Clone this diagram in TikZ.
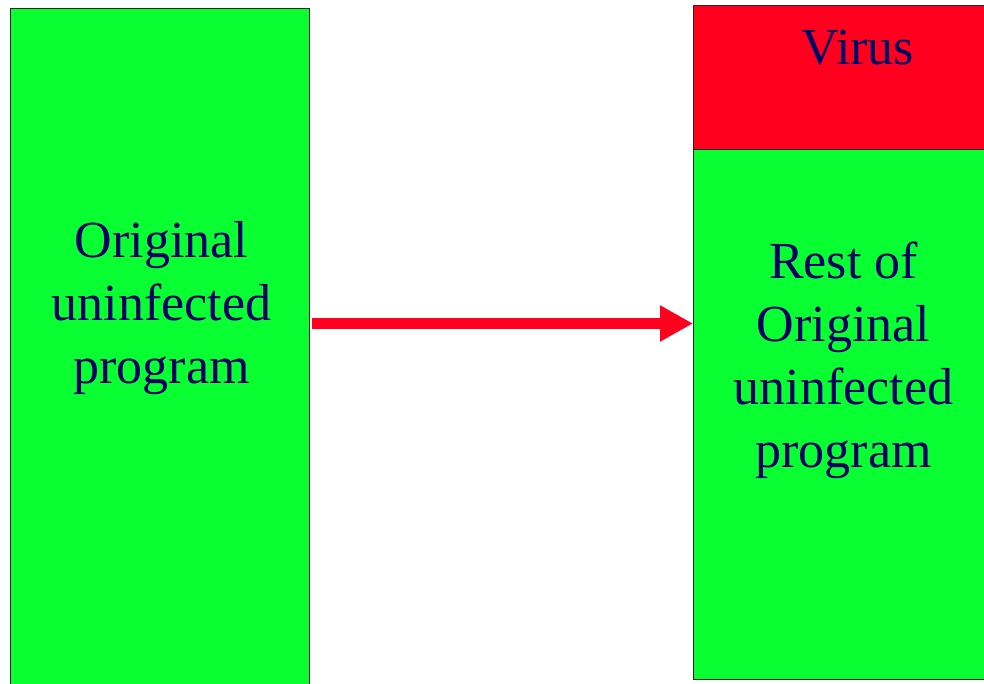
\documentclass[tikz,border=0pt]{standalone}
\usepackage{fontspec}
\setmainfont{Liberation Serif}
\usetikzlibrary{arrows.meta}
\definecolor{boxgreen}{RGB}{10,255,50}
\definecolor{boxred}{RGB}{255,0,30}
\definecolor{textnavy}{RGB}{0,0,102}
\begin{document}
\begin{tikzpicture}[x=1pt,y=-1pt,
  boxstyle/.style={draw=black!85,line width=1pt},
  bigtext/.style={text=textnavy,align=center,inner sep=0pt,font=\fontsize{52}{63}\selectfont},
  flowarrow/.style={draw=boxred,line width=11pt,-{Triangle[length=33pt,width=34pt]}}]
\useasboundingbox (0,0) rectangle (984,684);
\path[boxstyle,fill=boxgreen] (10,9) rectangle (309,700);
\coordinate (leftbox) at (309,323.5);
\path[boxstyle,fill=boxred] (693,6) rectangle (1000,150);
\path[boxstyle,fill=boxgreen] (693,150) rectangle (1000,679);
\coordinate (rightbox) at (693,323.5);
\node[bigtext,anchor=base] (virus) at (858,65) {Virus};
\node[bigtext,anchor=north] (lefttext) at (161.5,221) {Original\\uninfected\\program};
\node[bigtext,anchor=north] (righttext) at (843.5,242) {Rest of\\Original\\uninfected\\program};
\draw[flowarrow,shorten <=3pt] (leftbox) -- (rightbox);
\end{tikzpicture}
\end{document}
